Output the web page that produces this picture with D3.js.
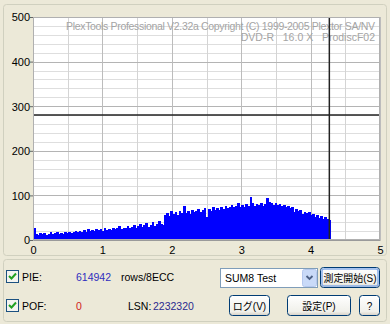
<!DOCTYPE html>
<html>
<head>
<meta charset="utf-8">
<script src="https://cdn.jsdelivr.net/npm/d3@7"></script>
<style>
  html, body { margin: 0; padding: 0; background: #ECE9D8; }
  svg { display: block; font-family: "Liberation Sans", "Noto Sans CJK JP", sans-serif; }
</style>
</head>
<body>
<div id="chart"></div>
<script>
// PIE per 8 ECC blocks, one value every 0.03 GB starting at 0
const pieStart = 0;
const pieStep = 0.03;
const pieValues = [
  28, 14, 12, 15, 13, 16, 12, 14, 17, 13, 15, 18, 14, 16, 13, 17, 15, 19, 16, 18,
  21, 17, 20, 18, 22, 19, 24, 20, 23, 21, 25, 22, 24, 21, 26, 23, 25, 22, 27, 24,
  26, 31, 25, 28, 26, 32, 27, 29, 34, 28, 31, 36, 29, 33, 38, 30, 34, 40, 32, 36,
  42, 35, 33, 56, 60, 54, 66, 58, 62, 55, 64, 60, 76, 61, 66, 59, 68, 63, 65, 70,
  62, 67, 72, 52, 69, 66, 73, 68, 71, 67, 75, 70, 77, 72, 74, 79, 73, 76, 82, 75,
  78, 74, 80, 77, 96, 84, 76, 81, 78, 83, 77, 80, 94, 86, 82, 79, 84, 78, 81, 76,
  79, 74, 77, 71, 74, 62, 70, 66, 68, 58, 63, 60, 62, 55, 58, 52, 55, 50, 53, 47,
  51, 48, 44
];
const xTicks = [0, 1, 2, 3, 4, 5];
const yTicks = [0, 100, 200, 300, 400, 500];
const cursorX = 4.27;
const cursorY = 280;
const titleLine1 = "PlexTools Professional V2.32a Copyright (C) 1999-2005 Plextor SA/NV";
const titleLine2 = "DVD-R   16.0 X   ProdiscF02";
const pieTotal = "614942";
const pofTotal = "0";
const lsnValue = "2232320";

const w = 390, h = 324;
const svg = d3.select('#chart').append('svg').attr('width', w).attr('height', h);

svg.append('rect').attr('width', w).attr('height', h).attr('fill', '#ECE9D8');

// group boxes
svg.append('rect').attr('x', 3.5).attr('y', 4.5).attr('width', 383).attr('height', 251)
  .attr('rx', 3).attr('fill', 'none').attr('stroke', '#D0D0BF');
svg.append('rect').attr('x', 3.5).attr('y', 259.5).attr('width', 383).attr('height', 62)
  .attr('rx', 3).attr('fill', 'none').attr('stroke', '#D0D0BF');

const x = d3.scaleLinear().domain([0, 5]).range([33, 380]);
const y = d3.scaleLinear().domain([0, 500]).range([240, 17]);

// plot background
svg.append('rect').attr('x', x(0)).attr('y', y(500))
  .attr('width', x(5) - x(0)).attr('height', y(0) - y(500)).attr('fill', '#fff');

// grid
const grid = svg.append('g');
grid.selectAll('.hminor').data(d3.range(20, 500, 20).filter(v => v % 100 !== 0)).enter()
  .append('line')
  .attr('x1', x(0)).attr('x2', x(5))
  .attr('y1', d => Math.round(y(d)) + 0.5).attr('y2', d => Math.round(y(d)) + 0.5)
  .attr('stroke', '#dedede');
grid.selectAll('.vminor').data([0.5, 1.5, 2.5, 3.5, 4.5]).enter()
  .append('line')
  .attr('y1', y(500)).attr('y2', y(0))
  .attr('x1', d => Math.round(x(d)) + 0.5).attr('x2', d => Math.round(x(d)) + 0.5)
  .attr('stroke', '#d4d4d4');
grid.selectAll('.hmajor').data(yTicks.slice(1)).enter()
  .append('line')
  .attr('x1', x(0)).attr('x2', x(5))
  .attr('y1', d => Math.round(y(d)) + 0.5).attr('y2', d => Math.round(y(d)) + 0.5)
  .attr('stroke', '#b4b4b4');
grid.selectAll('.vmajor').data(xTicks.slice(1)).enter()
  .append('line')
  .attr('y1', y(500)).attr('y2', y(0))
  .attr('x1', d => Math.round(x(d)) + 0.5).attr('x2', d => Math.round(x(d)) + 0.5)
  .attr('stroke', '#bcbcbc');

// watermark
svg.append('text').attr('x', 66).attr('y', 30).attr('textLength', 309)
  .attr('lengthAdjust', 'spacing')
  .attr('font-size', 10.5).attr('fill', '#a4a4a4').text(titleLine1);
svg.append('text').attr('x', 375).attr('y', 41).attr('text-anchor', 'end')
  .attr('font-size', 10.5).attr('fill', '#a4a4a4')
  .style('white-space', 'pre').text(titleLine2);

// PIE bars
const pieData = pieValues.map((v, i) => ({ pos: pieStart + i * pieStep, v: v }));
svg.append('g').attr('shape-rendering', 'crispEdges').selectAll('rect').data(pieData).enter()
  .append('rect')
  .attr('x', d => x(d.pos))
  .attr('y', d => y(d.v))
  .attr('width', x(pieStep) - x(0) + 0.6)
  .attr('height', d => y(0) - y(d.v))
  .attr('fill', '#0000ff');

// cursor lines
svg.append('line').attr('x1', x(0)).attr('x2', x(5))
  .attr('y1', y(cursorY)).attr('y2', y(cursorY))
  .attr('stroke', '#222').attr('stroke-width', 1.5);
svg.append('line').attr('y1', y(500)).attr('y2', y(0))
  .attr('x1', x(cursorX)).attr('x2', x(cursorX))
  .attr('stroke', '#222').attr('stroke-width', 1.5);

// axes
const yAxis = d3.axisLeft(y).tickValues(yTicks).tickSize(3).tickSizeOuter(0);
const gy = svg.append('g').attr('transform', 'translate(' + x(0) + ',0)').call(yAxis);
const xAxis = d3.axisBottom(x).tickValues(xTicks).tickFormat(d3.format('d'))
  .tickSize(0).tickSizeOuter(0).tickPadding(6);
const gx = svg.append('g').attr('transform', 'translate(0,' + y(0) + ')').call(xAxis);
[gy, gx].forEach(g => {
  g.select('.domain').attr('stroke', '#9a9a9a');
  g.selectAll('.tick line').attr('stroke', '#666');
  g.selectAll('.tick text').attr('font-size', 11).attr('fill', '#000')
    .attr('font-family', '"Liberation Sans", sans-serif');
});
gy.selectAll('.tick text').attr('x', -3).attr('dy', '0.35em');
// top / right frame
svg.append('rect').attr('x', x(0) + 0.5).attr('y', y(500) + 0.5)
  .attr('width', x(5) - x(0) - 1).attr('height', y(0) - y(500) - 1)
  .attr('fill', 'none').attr('stroke', '#b0b0b0');

// bottom panel
function checkbox(cx, cy) {
  const g = svg.append('g').attr('transform', 'translate(' + cx + ',' + cy + ')');
  g.append('rect').attr('x', 0.5).attr('y', 0.5).attr('width', 12).attr('height', 12)
    .attr('fill', '#f4f4f0').attr('stroke', '#1C5180');
  g.append('path').attr('d', 'M3,6 L5.5,8.5 L10,3.5').attr('fill', 'none')
    .attr('stroke', '#21A121').attr('stroke-width', 2);
}
checkbox(6, 270);
checkbox(6, 299);

function label(tx, ty, txt, col, anchor) {
  svg.append('text').attr('x', tx).attr('y', ty).attr('font-size', 10.5)
    .attr('fill', col || '#000').attr('text-anchor', anchor || 'start').text(txt);
}
label(22, 281, 'PIE:');
label(76, 281, pieTotal, '#2f2fbf');
label(121, 281, 'rows/8ECC');
label(22, 310, 'POF:');
label(76, 310, pofTotal, '#d02020');
label(128, 310, 'LSN:');
label(153, 310, lsnValue, '#2a2a8f');

// combo box
svg.append('rect').attr('x', 220.5).attr('y', 268.5).attr('width', 97).attr('height', 19)
  .attr('fill', '#fff').attr('stroke', '#7F9DB9');
svg.append('rect').attr('x', 302.5).attr('y', 269.5).attr('width', 14).attr('height', 17)
  .attr('rx', 2).attr('fill', '#C9DAF8').attr('stroke', '#B5C8EE');
svg.append('path').attr('d', 'M306.5,276 L309.5,279 L312.5,276').attr('fill', 'none')
  .attr('stroke', '#4D6185').attr('stroke-width', 1.8);
label(225, 282, 'SUM8 Test');

const defs = svg.append('defs');
const lg = defs.append('linearGradient').attr('id', 'btnGrad').attr('x1', 0).attr('x2', 0).attr('y1', 0).attr('y2', 1);
lg.append('stop').attr('offset', '0').attr('stop-color', '#ffffff');
lg.append('stop').attr('offset', '0.8').attr('stop-color', '#F0F0EA');
lg.append('stop').attr('offset', '1').attr('stop-color', '#D6D0C5');

function button(bx, by, bw, bh, txt, focus) {
  const g = svg.append('g');
  g.append('rect').attr('x', bx + 0.5).attr('y', by + 0.5).attr('width', bw).attr('height', bh)
    .attr('rx', 3).attr('fill', 'url(#btnGrad)').attr('stroke', '#003C74');
  if (focus) {
    g.append('rect').attr('x', bx + 2).attr('y', by + 2).attr('width', bw - 3).attr('height', bh - 3)
      .attr('rx', 2).attr('fill', 'none').attr('stroke', '#89AEE9').attr('stroke-width', 1.5);
  }
  const t = g.append('text').attr('x', bx + bw / 2 + 0.5).attr('y', by + bh / 2 + 4.5)
    .attr('text-anchor', 'middle').attr('font-size', 10).attr('fill', '#000').text(txt);
  const maxW = bw - 6;
  if (t.node().getComputedTextLength() > maxW) {
    t.attr('textLength', maxW).attr('lengthAdjust', 'spacingAndGlyphs');
  }
}

button(320, 267, 59, 20, '測定開始(S)', true);
button(229, 295, 40, 20, 'ログ(V)');
button(287, 295, 63, 20, '設定(P)');
button(359, 295, 20, 20, '?');
</script>
</body>
</html>
